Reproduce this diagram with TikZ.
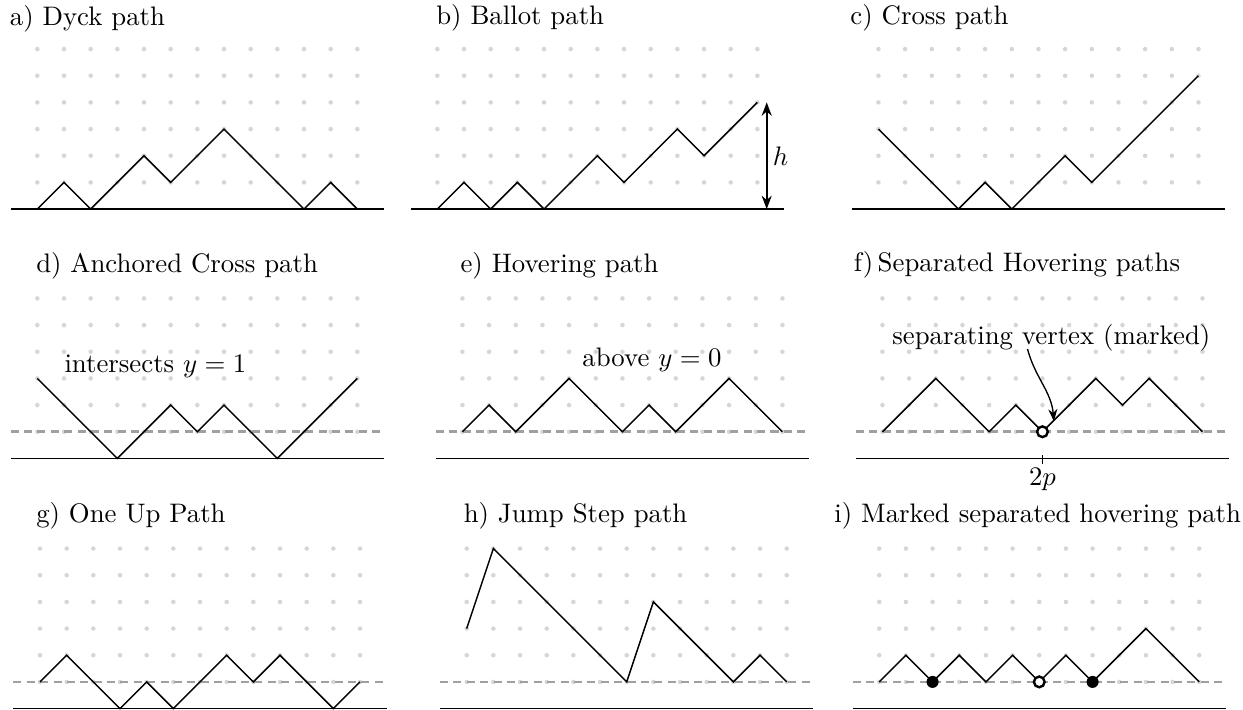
\documentclass[tikz,border=0pt]{standalone}
\usepackage{amsmath,amssymb}
\usepackage{xcolor}
\usepackage{tikz}
\usetikzlibrary{arrows.meta, positioning}
\definecolor{dotgray}{RGB}{214,214,214}
\definecolor{levelgray}{RGB}{160,160,160}

\begin{document}
\begin{tikzpicture}[
  x=0.35cm, y=0.35cm,
  lattice/.style={line width=0.55pt, line join=miter},
  axis/.style={line width=0.6pt},
  level/.style={draw=levelgray, line width=1pt, dash pattern=on 3pt off 2pt},
  title/.style={anchor=base west, inner sep=0pt},
  note/.style={anchor=base west, inner sep=0pt},
  hollow/.style={circle, draw, fill=white, line width=0.9pt, inner sep=0pt, minimum size=4pt},
  marked/.style={circle, fill=black, inner sep=0pt, minimum size=4.5pt},
  arr/.style={-{Stealth[length=4.5pt]}, line width=0.5pt},
  dbl/.style={{Stealth[length=5pt]}-{Stealth[length=5pt]}, line width=0.6pt}
]
  \useasboundingbox (0,0) rectangle (46.61,26.62);

  % lattice dots of all nine panels
  \foreach \ox/\oy in {1.40/18.78, 16.40/18.78, 32.94/18.78,
                       1.40/9.43, 17.34/9.43, 33.09/9.43,
                       1.50/0.05, 17.50/0.05, 32.97/0.05}
    \foreach \i in {0,...,12}
      \foreach \j in {1,...,6}
        \fill[dotgray] (\ox+\i,\oy+\j) circle (0.85pt);

  % a) Dyck path
  \begin{scope}[shift={(1.40,18.78)}]
    \node[title] (ta) at (-1.05,6.90) {a) Dyck path};
    \draw[axis] (-1,0) -- (13,0);
    \draw[lattice] (0,0) -- (1,1) -- (2,0) -- (4,2) -- (5,1) -- (7,3) -- (10,0) -- (11,1) -- (12,0);
  \end{scope}

  % b) Ballot path
  \begin{scope}[shift={(16.40,18.78)}]
    \node[title] (tb) at (-0.06,6.92) {b) Ballot path};
    \draw[axis] (-1,0) -- (13,0);
    \draw[lattice] (0,0) -- (1,1) -- (2,0) -- (3,1) -- (4,0) -- (6,2) -- (7,1) -- (9,3) -- (10,2) -- (12,4);
    \coordinate (htop) at (12.35,4);
    \coordinate (hbot) at (12.35,0);
    \draw[dbl] (htop) -- node[right, inner sep=2pt] {$h$} (hbot);
  \end{scope}

  % c) Cross path
  \begin{scope}[shift={(32.94,18.78)}]
    \node[title] (tc) at (-1.07,6.92) {c) Cross path};
    \draw[axis] (-1,0) -- (13,0);
    \draw[lattice] (0,3) -- (3,0) -- (4,1) -- (5,0) -- (7,2) -- (8,1) -- (12,5);
  \end{scope}

  % d) Anchored Cross path
  \begin{scope}[shift={(1.40,9.43)}]
    \node[title] (td) at (-0.06,6.98) {d) Anchored Cross path};
    \draw[axis] (-1,0) -- (13,0);
    \draw[level] (-1,1) -- (13,1);
    \draw[lattice] (0,3) -- (3,0) -- (5,2) -- (6,1) -- (7,2) -- (9,0) -- (12,3);
    \node[note] (nd) at (1.0,3.22) {intersects $y=1$};
  \end{scope}

  % e) Hovering path
  \begin{scope}[shift={(17.34,9.43)}]
    \node[title] (te) at (-0.09,6.98) {e) Hovering path};
    \draw[axis] (-1,0) -- (13,0);
    \draw[level] (-1,1) -- (13,1);
    \draw[lattice] (0,1) -- (1,2) -- (2,1) -- (4,3) -- (6,1) -- (7,2) -- (8,1) -- (10,3) -- (12,1);
    \node[note] (ne) at (4.48,3.43) {above $y=0$};
  \end{scope}

  % f) Separated Hovering paths
  \begin{scope}[shift={(33.09,9.43)}]
    \node[title] (tf) at (-1.09,7.00) {f)\,Separated Hovering paths};
    \draw[axis] (-1,0) -- (13,0);
    \draw[level] (-1,1) -- (13,1);
    \draw[lattice] (0,1) -- (2,3) -- (4,1) -- (5,2) -- (6,1) -- (8,3) -- (9,2) -- (10,3) -- (12,1);
    \node[hollow] (sv) at (6,1) {};
    \node[note] (nf) at (0.35,4.29) {separating vertex (marked)};
    \coordinate (sepfoot) at (5.44,4.1);
    \draw[arr] (sepfoot) to[out=-75, in=95] ([xshift=0.15cm, yshift=1.5pt]sv.north);
    \coordinate (tickup) at (6,0.12);
    \coordinate (tickdn) at (6,-0.2);
    \draw[line width=0.5pt] (tickup) -- (tickdn) node[below, inner sep=1.5pt] (twop) {$2p$};
  \end{scope}

  % g) One Up Path
  \begin{scope}[shift={(1.50,0.05)}]
    \node[title] (tg) at (-0.16,6.98) {g) One Up Path};
    \draw[axis] (-1,0) -- (13,0);
    \draw[level] (-1,1) -- (13,1);
    \draw[lattice] (0,1) -- (1,2) -- (3,0) -- (4,1) -- (5,0) -- (7,2) -- (8,1) -- (9,2) -- (11,0) -- (12,1);
  \end{scope}

  % h) Jump Step path
  \begin{scope}[shift={(17.50,0.05)}]
    \node[title] (th) at (-0.13,6.98) {h) Jump Step path};
    \draw[axis] (-1,0) -- (13,0);
    \draw[level] (-1,1) -- (13,1);
    \draw[lattice] (0,3) -- (1,6) -- (6,1) -- (7,4) -- (10,1) -- (11,2) -- (12,1);
  \end{scope}

  % i) Marked separated hovering path
  \begin{scope}[shift={(32.97,0.05)}]
    \node[title] (ti) at (-1.70,6.98) {i) Marked separated hovering path};
    \draw[axis] (-1,0) -- (13,0);
    \draw[level] (-1,1) -- (13,1);
    \draw[lattice] (0,1) -- (1,2) -- (2,1) -- (3,2) -- (4,1) -- (5,2) -- (6,1) -- (7,2) -- (8,1) -- (10,3) -- (12,1);
    \node[marked] (m1) at (2,1) {};
    \node[hollow] (m2) at (6,1) {};
    \node[marked] (m3) at (8,1) {};
  \end{scope}
\end{tikzpicture}
\end{document}
